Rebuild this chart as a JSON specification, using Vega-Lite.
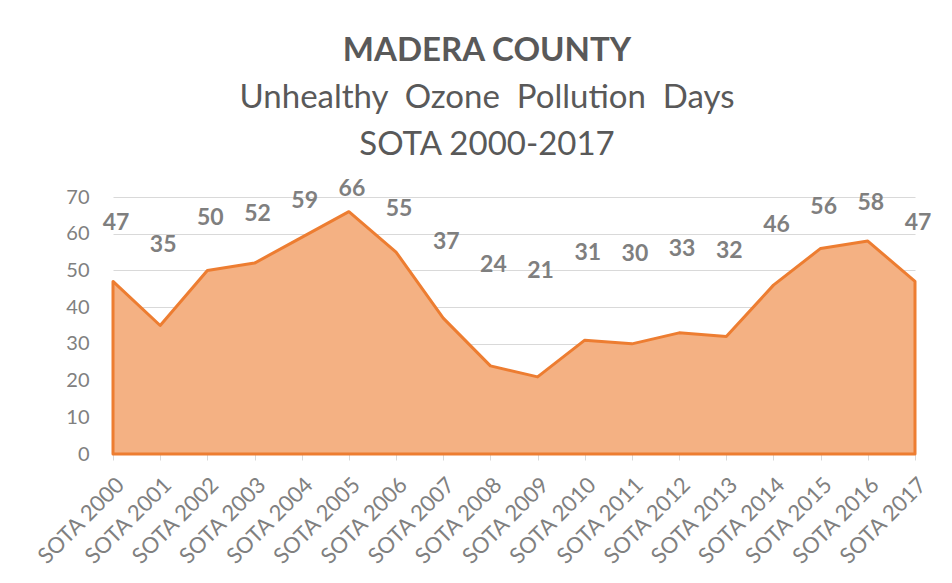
{
  "$schema": "https://vega.github.io/schema/vega-lite/v6.json",
  "width": 802,
  "height": 257,
  "autosize": "none",
  "padding": {"left": 113, "top": 197, "right": 37, "bottom": 129},
  "background": "white",
  "title": {
    "text": "MADERA COUNTY",
    "subtitle": ["Unhealthy\u00a0 Ozone\u00a0 Pollution\u00a0 Days", "SOTA 2000-2017"],
    "frame": "group",
    "anchor": "middle",
    "dx": -27,
    "offset": 16,
    "font": "Lato",
    "fontSize": 33,
    "fontWeight": "bold",
    "color": "#595959",
    "subtitleFont": "Lato",
    "subtitleFontSize": 33,
    "subtitleColor": "#595959",
    "subtitleLineHeight": 47,
    "subtitlePadding": 14
  },
  "data": {
    "values": [
      {"label": "SOTA 2000", "days": 47},
      {"label": "SOTA 2001", "days": 35},
      {"label": "SOTA 2002", "days": 50},
      {"label": "SOTA 2003", "days": 52},
      {"label": "SOTA 2004", "days": 59},
      {"label": "SOTA 2005", "days": 66},
      {"label": "SOTA 2006", "days": 55},
      {"label": "SOTA 2007", "days": 37},
      {"label": "SOTA 2008", "days": 24},
      {"label": "SOTA 2009", "days": 21},
      {"label": "SOTA 2010", "days": 31},
      {"label": "SOTA 2011", "days": 30},
      {"label": "SOTA 2012", "days": 33},
      {"label": "SOTA 2013", "days": 32},
      {"label": "SOTA 2014", "days": 46},
      {"label": "SOTA 2015", "days": 56},
      {"label": "SOTA 2016", "days": 58},
      {"label": "SOTA 2017", "days": 47}
    ]
  },
  "encoding": {
    "x": {
      "field": "label",
      "type": "ordinal",
      "sort": null,
      "scale": {"type": "point", "padding": 0},
      "axis": {
        "title": null,
        "labelAngle": -45,
        "labelFont": "Lato",
        "labelFontSize": 22,
        "labelColor": "#808080",
        "labelPadding": 14,
        "tickSize": 6,
        "tickColor": "#D9D9D9",
        "domainColor": "#D9D9D9",
        "grid": false
      }
    }
  },
  "layer": [
    {
      "mark": {"type": "area", "fill": "#F4B183", "fillOpacity": 1, "stroke": "#ED7D31", "strokeWidth": 3, "strokeJoin": "round"},
      "encoding": {
        "y": {
          "field": "days",
          "type": "quantitative",
          "scale": {"domain": [0, 70]},
          "axis": {
            "title": null,
            "values": [0, 10, 20, 30, 40, 50, 60, 70],
            "grid": true,
            "gridColor": "#D9D9D9",
            "ticks": false,
            "domain": false,
            "labelFont": "Lato",
            "labelFontSize": 20,
            "labelColor": "#808080",
            "labelPadding": 24
          }
        }
      }
    },
    {
      "mark": {"type": "text", "font": "Lato", "fontWeight": "bold", "fontSize": 23, "color": "#7F7F7F", "dx": 3, "baseline": "middle"},
      "encoding": {
        "y": {"field": "days", "type": "quantitative", "scale": {"domain": [-79, 61.4]}, "axis": null},
        "text": {"field": "days", "type": "quantitative"}
      }
    }
  ],
  "resolve": {"scale": {"y": "independent"}},
  "config": {"view": {"stroke": null}}
}
